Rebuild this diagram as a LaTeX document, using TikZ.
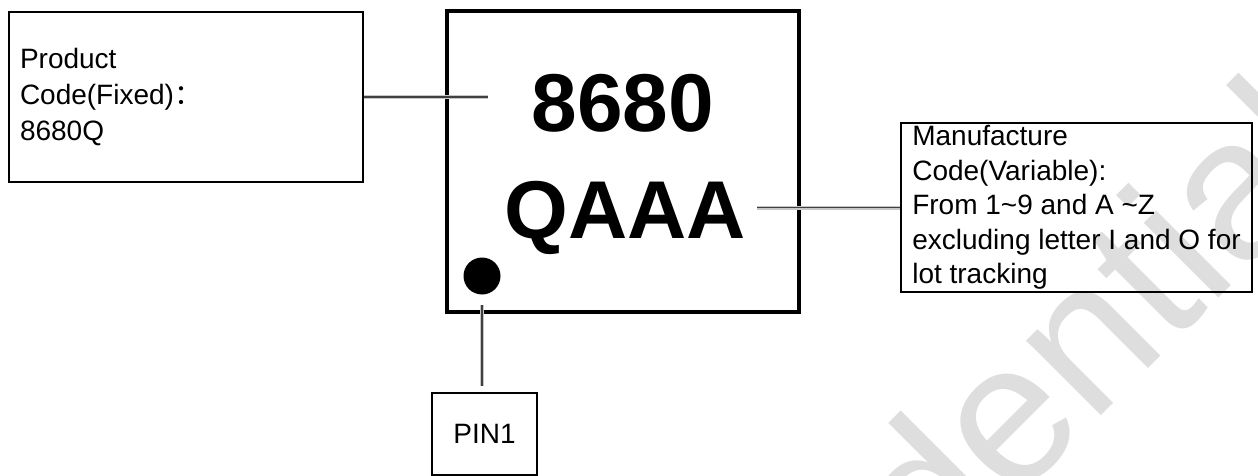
\documentclass[tikz,border=0pt]{standalone}
\usepackage{fontspec}
\setmainfont{Liberation Sans}
\newfontfamily\cjkfont{Noto Sans CJK SC}
\usetikzlibrary{positioning,calc}
\tikzset{
	notebox/.style={rectangle, draw=black, line width=1pt, align=left, inner sep=0pt},
	chipbox/.style={rectangle, draw=black, line width=2.2pt, minimum width=176pt, minimum height=150.5pt},
	marking/.style={inner sep=0pt, font=\bfseries\fontsize{41}{41}\selectfont},
	leader/.style={draw=black!75, line width=0.8pt, preaction={draw=black!22, line width=2pt}}
}

\begin{document}
\begin{tikzpicture}[x=0.5pt, y=-0.5pt]
	\useasboundingbox (0,0) rectangle (1258,476);
	% watermark, cut to the page
	\begin{scope}
		\clip (0,0) rectangle (1258,476);
		\node[inner sep=0pt, anchor=base west, rotate=45, text=black!13,
			font=\fontsize{100}{100}\selectfont] (stamp) at (604,913) {Confidential};
	\end{scope}
	% chip
	\node[chipbox] (chip) at (623,161.5) {};
	\node[marking, anchor=base] (prodcode) at (623,132) {8680};
	\node[marking, anchor=base] (lotcode) at (625,238) {QAAA};
	\node[circle, fill=black, minimum size=18.5pt, inner sep=0pt] (pindot) at (482,276) {};
	% notes
	\node[notebox, minimum width=177pt, minimum height=85pt, text width=166pt,
		font=\fontsize{14}{18}\selectfont] (prodnote) at (186,97)
		{Product\\Code(Fixed){\cjkfont ：}\\8680Q};
	\node[notebox, minimum width=175.5pt, minimum height=84.5pt,
		font=\fontsize{14}{17.25}\selectfont] (lotnote) at (1076.5,207.5)
		{Manufacture\\Code(Variable):\\From 1\textasciitilde 9 and A \textasciitilde Z\\excluding letter I and O for\\lot tracking};
	\node[notebox, minimum width=52.5pt, minimum height=41pt,
		font=\fontsize{14}{17}\selectfont] (pinnote) at (484.5,434) {PIN1};
	% leaders
	\coordinate (prodend) at (488,97);
	\coordinate (lotend) at (757,207.5);
	\draw[leader] (prodnote.east) -- (prodend);
	\draw[leader] (lotend) -- (lotnote.west);
	\draw[leader, shorten <=5.25pt, shorten >=3pt] (pindot.south) -- (pindot.south |- pinnote.north);
\end{tikzpicture}
\end{document}
